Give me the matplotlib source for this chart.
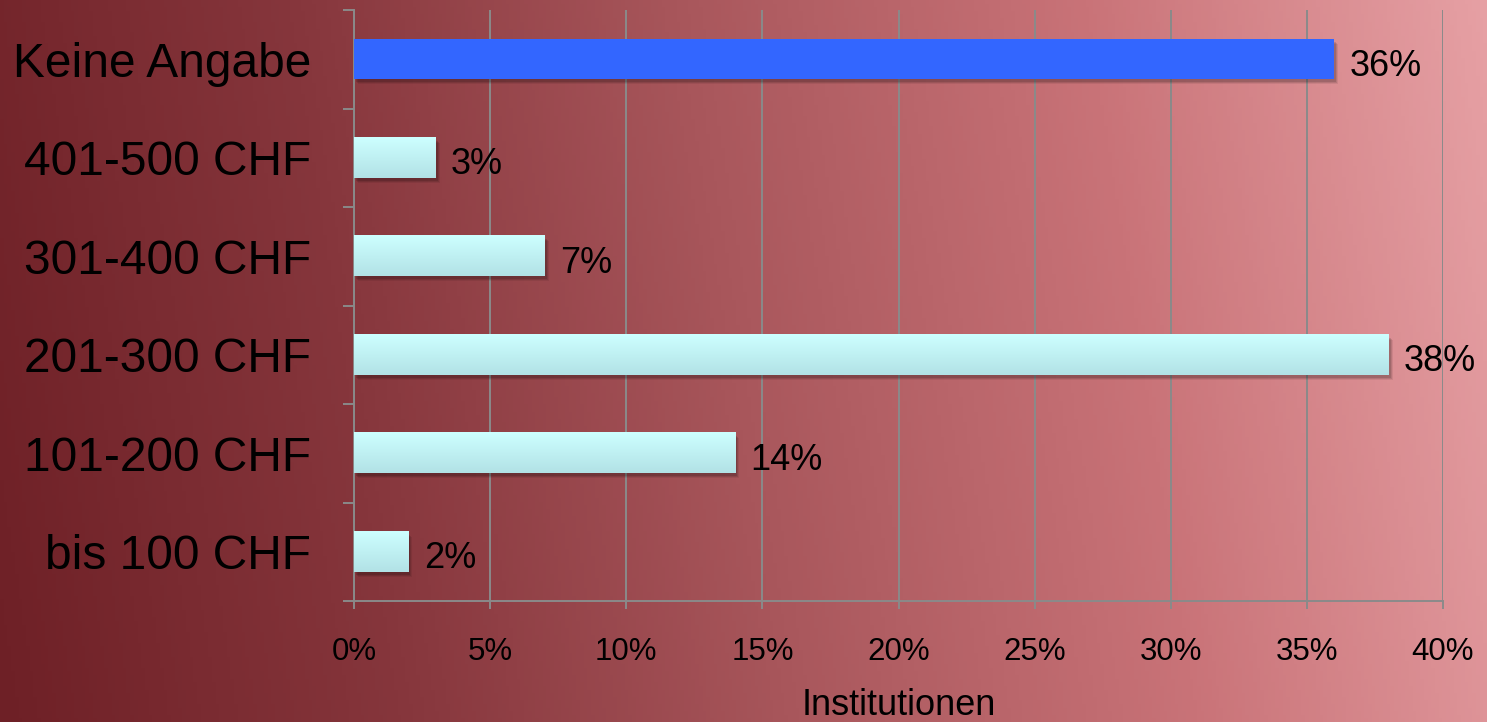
import numpy as np
import matplotlib
matplotlib.use("Agg")
import matplotlib.pyplot as plt
from matplotlib.colors import LinearSegmentedColormap
from matplotlib.ticker import FixedLocator, FuncFormatter
from matplotlib.transforms import ScaledTranslation

categories = ["bis 100 CHF", "101-200 CHF", "201-300 CHF", "301-400 CHF", "401-500 CHF", "Keine Angabe"]
values = [2, 14, 38, 7, 3, 36]
highlight = ["Keine Angabe"]
xticks = [0, 5, 10, 15, 20, 25, 30, 35, 40]
xlabel = "Institutionen"

plt.rcParams['font.family'] = ['Liberation Sans', 'DejaVu Sans']

fig = plt.figure(figsize=(14.87, 7.22), dpi=100)

# background gradient
bg = fig.add_axes([0, 0, 1, 1], zorder=-10)
bg_cmap = LinearSegmentedColormap.from_list(
    "bg", ["#6e2026", "#86363c", "#a9575c", "#c97378", "#e6a0a4"])
gx = np.linspace(0, 1, 400)
gy = np.linspace(0, 1, 200)
GX, GY = np.meshgrid(gx, gy)
grad = np.clip(GX * 0.93 + GY * 0.07, 0, 1)
bg.imshow(grad, cmap=bg_cmap, aspect='auto', extent=[0, 1, 0, 1], origin='lower')
bg.set_xlim(0, 1)
bg.set_ylim(0, 1)
bg.axis('off')

ax = fig.add_axes([354 / 1487, 121 / 722, 1089 / 1487, 591 / 722])
ax.patch.set_alpha(0)

y = np.arange(len(categories))
h = 0.41
bars = ax.barh(y, values, height=h, color="none", edgecolor="none", zorder=3)

cyan_grad = LinearSegmentedColormap.from_list("cy", ["#b2e2e6", "#cdffff"])
gcol = np.linspace(0, 1, 64).reshape(-1, 1)
for cat, bar, v in zip(categories, bars, values):
    x0, y0 = bar.get_x(), bar.get_y()
    w, hh = bar.get_width(), bar.get_height()
    # soft shadow (several layers)
    for dx, dy, a in [(2, -3, 0.12), (3, -4, 0.10), (4, -5, 0.07)]:
        sh = plt.Rectangle((x0, y0), w, hh, facecolor="black", alpha=a,
                           edgecolor="none", zorder=2)
        sh.set_transform(ax.transData + ScaledTranslation(dx / 100, dy / 100, fig.dpi_scale_trans))
        ax.add_patch(sh)
    if cat in highlight:
        r = plt.Rectangle((x0, y0), w, hh, facecolor="#3366ff", edgecolor="none", zorder=3)
        ax.add_patch(r)
    else:
        ax.imshow(gcol, cmap=cyan_grad, aspect='auto', origin='lower',
                  extent=[x0, x0 + w, y0, y0 + hh], zorder=3, interpolation='bilinear')
    ax.annotate(f"{v}%", xy=(v, bar.get_y() + hh / 2), xytext=(11, -2),
                textcoords='offset points', ha='left', va='center_baseline',
                fontsize=26, color='black', zorder=5)

ax.set_xlim(0, 40)
ax.set_ylim(-0.5, len(categories) - 0.5)
ax.set_xticks(xticks)
ax.xaxis.set_major_formatter(FuncFormatter(lambda v, p: f"{int(v)}%"))
ax.set_yticks(y)
ax.set_yticklabels(categories)
ax.yaxis.set_minor_locator(FixedLocator(np.arange(-0.5, len(categories), 1.0)))

ax.grid(axis='x', color='#8a8a8a', linewidth=1.4, zorder=1)
ax.set_axisbelow(True)
for s in ['top', 'right']:
    ax.spines[s].set_visible(False)
for s in ['left', 'bottom']:
    ax.spines[s].set_color('#8a8a8a')
    ax.spines[s].set_linewidth(1.4)

ax.tick_params(axis='y', which='major', length=0, pad=31, labelsize=34.5, labelcolor='black')
ax.tick_params(axis='y', which='minor', length=8, width=1.4, color='#8a8a8a', direction='out')
ax.tick_params(axis='x', which='major', length=6, width=1.4, color='#8a8a8a', direction='out',
               pad=20, labelsize=22.5, labelcolor='black')
ax.set_xlabel(xlabel, fontsize=26, color='black', labelpad=15)

fig.savefig("out.png", dpi=100)
